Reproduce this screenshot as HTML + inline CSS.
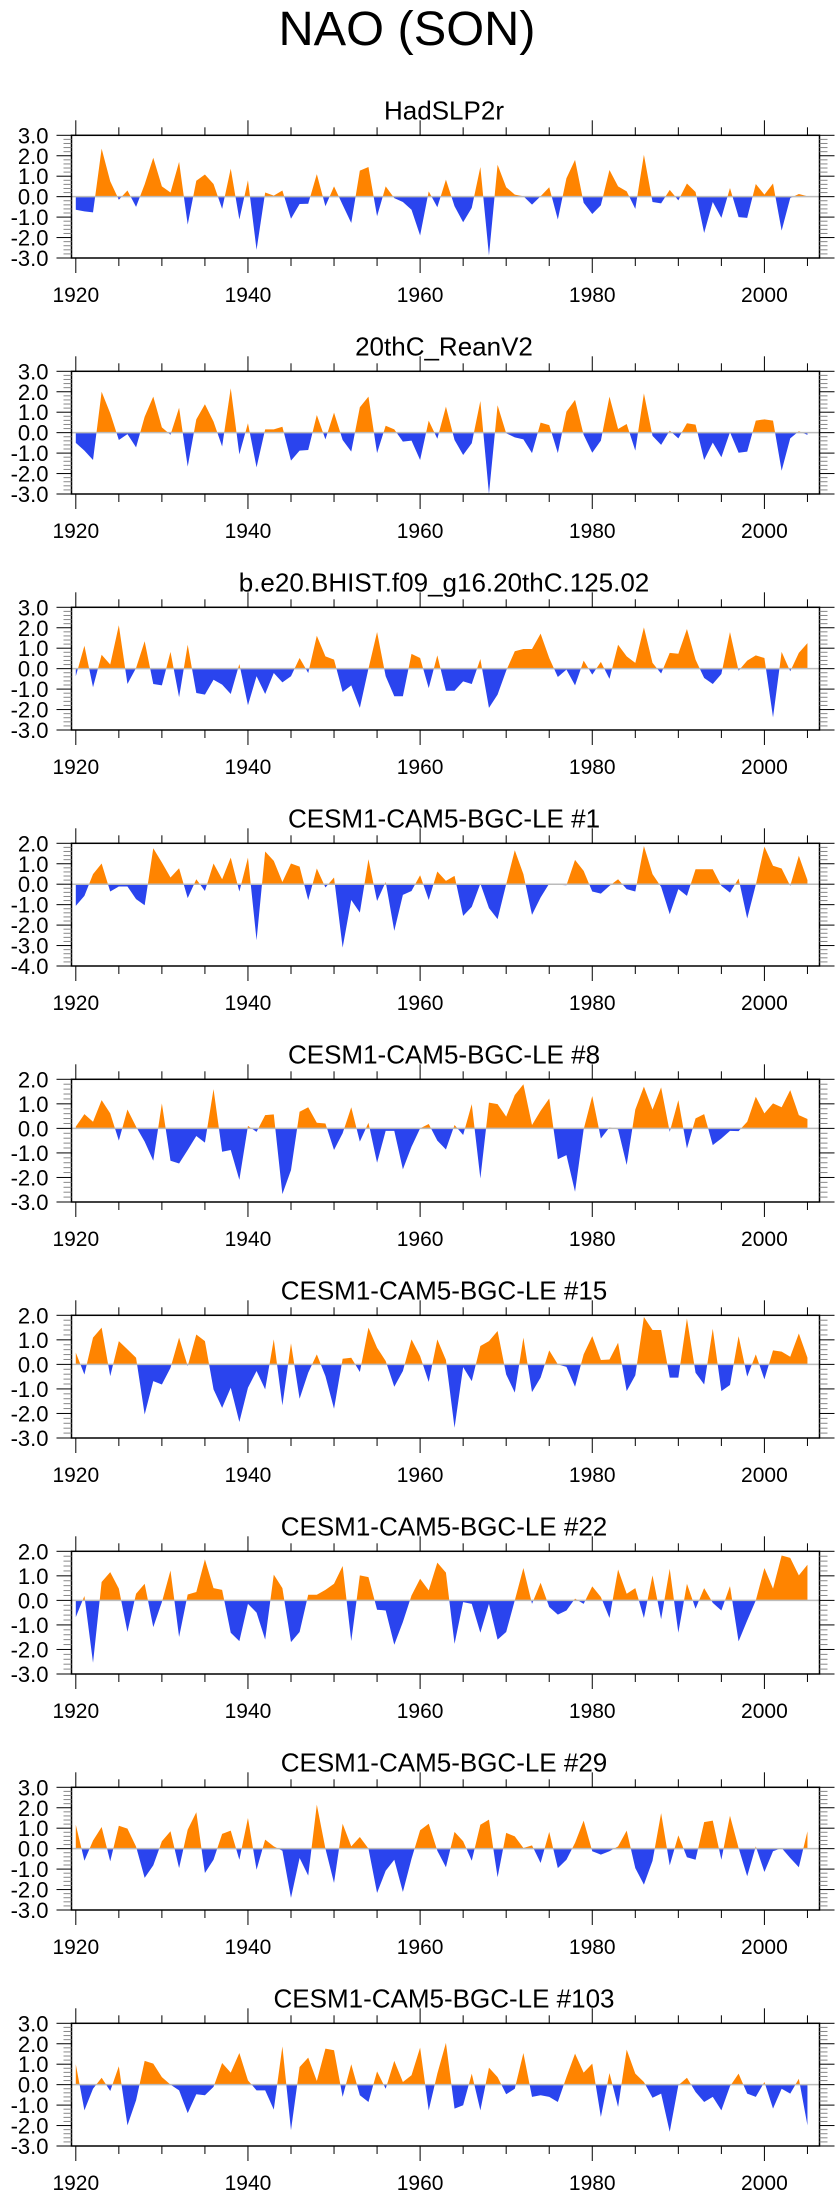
<!DOCTYPE html>
<html><head><meta charset="utf-8"><title>NAO (SON)</title>
<style>
html,body{margin:0;padding:0;background:#fff;}
svg{display:block;font-family:"Liberation Sans",sans-serif;}
</style></head>
<body>
<svg id="chart" width="840" height="2200" viewBox="0 0 840 2200" xmlns="http://www.w3.org/2000/svg">
<text x="407" y="45" font-size="48" text-anchor="middle" textLength="257" lengthAdjust="spacingAndGlyphs">NAO (SON)</text>
</svg>
<script>
const firstYear = 1920;
const xTickLabels = [1920, 1940, 1960, 1980, 2000];
const panelTitles = ["HadSLP2r","20thC_ReanV2","b.e20.BHIST.f09_g16.20thC.125.02","CESM1-CAM5-BGC-LE #1","CESM1-CAM5-BGC-LE #8","CESM1-CAM5-BGC-LE #15","CESM1-CAM5-BGC-LE #22","CESM1-CAM5-BGC-LE #29","CESM1-CAM5-BGC-LE #103"];
const yMinVals = [-3,-3,-3,-4,-3,-3,-3,-3,-3];
const yMaxVals = [3,3,3,2,2,2,2,3,3];
const had = [-0.64,-0.72,-0.77,2.35,0.75,-0.15,0.3,-0.5,0.6,1.9,0.5,0.2,1.7,-1.37,0.78,1.08,0.62,-0.6,1.37,-1.12,0.8,-2.6,0.2,0.05,0.3,-1.08,-0.36,-0.35,1.1,-0.47,0.5,-0.4,-1.29,1.27,1.45,-0.96,0.5,-0.07,-0.26,-0.64,-1.9,0.26,-0.52,0.83,-0.47,-1.25,-0.55,1.45,-2.88,1.56,0.46,0.1,0.02,-0.39,0.02,0.46,-1.12,0.9,1.8,-0.3,-0.85,-0.42,1.3,0.5,0.26,-0.6,2.05,-0.26,-0.33,0.33,-0.18,0.64,0.23,-1.78,-0.26,-1.04,0.42,-1.0,-1.04,0.62,0.1,0.64,-1.66,-0.07,0.13,0.02];
const rean = [-0.5,-0.88,-1.34,2.0,0.95,-0.36,-0.07,-0.72,0.78,1.76,0.26,-0.1,1.22,-1.66,0.65,1.39,0.54,-0.68,2.17,-1.06,0.46,-1.7,0.16,0.16,0.29,-1.37,-0.88,-0.85,0.86,-0.33,0.98,-0.36,-0.93,1.24,1.76,-1.0,0.34,0.16,-0.44,-0.39,-1.34,0.59,-0.3,1.27,-0.36,-1.09,-0.52,1.55,-3.0,1.34,-0.03,-0.23,-0.33,-1.0,0.49,0.37,-1.0,1.03,1.6,-0.11,-0.98,-0.39,1.76,0.18,0.42,-0.88,1.92,-0.16,-0.6,0.1,-0.28,0.46,0.39,-1.34,-0.49,-1.2,0.02,-0.98,-0.93,0.59,0.65,0.59,-1.86,-0.28,0.07,-0.11];
const bhist = [-0.37,1.12,-0.91,0.68,0.2,2.12,-0.75,0.03,1.34,-0.75,-0.82,0.82,-1.4,1.17,-1.19,-1.27,-0.54,-0.78,-1.24,0.23,-1.79,-0.37,-1.24,-0.21,-0.67,-0.37,0.52,-0.21,1.61,0.6,0.44,-1.14,-0.82,-1.92,0,1.79,-0.37,-1.35,-1.35,0.72,0.52,-0.95,0.65,-1.08,-1.08,-0.62,-0.75,0.47,-1.92,-1.27,-0.1,0.85,0.96,0.96,1.71,0.52,-0.41,-0.05,-0.82,0.39,-0.29,0.33,-0.5,1.17,0.6,0.28,2.02,0.28,-0.24,0.77,0.73,1.94,0.44,-0.46,-0.75,-0.26,1.79,-0.1,0.39,0.65,0.52,-2.38,0.82,-0.13,0.77,1.25];
const le1 = [-1.06,-0.57,0.49,1.01,-0.36,-0.11,-0.11,-0.73,-1.03,1.76,1.06,0.33,0.78,-0.68,0.24,-0.33,1.01,0.24,1.3,-0.36,1.3,-2.74,1.6,1.14,0.11,1.01,0.86,-0.78,0.77,-0.16,0.33,-3.1,-0.77,-1.39,1.22,-0.82,0.11,-2.28,-0.52,-0.33,0.44,-0.77,0.62,0.16,0.41,-1.55,-1.11,0.03,-1.17,-1.71,0,1.66,0.49,-1.5,-0.65,0.03,-0.03,-0.05,1.19,0.65,-0.36,-0.46,-0.08,0.24,-0.24,-0.36,1.87,0.49,-0.13,-1.47,-0.24,-0.57,0.73,0.73,0.73,-0.08,-0.41,0.28,-1.68,-0.03,1.84,0.9,0.77,-0.08,1.39,0.2];
const le8 = [0.07,0.58,0.27,1.15,0.61,-0.5,0.77,0.07,-0.54,-1.32,1.02,-1.32,-1.43,-0.88,-0.31,-0.58,1.6,-0.95,-0.88,-2.1,0.1,-0.14,0.54,0.57,-2.68,-1.7,0.68,0.86,0.23,0.2,-0.88,-0.2,0.86,-0.54,0.23,-1.4,-0.1,-0.1,-1.67,-0.75,0,0.18,-0.5,-0.86,0.14,-0.27,0.99,-2.04,1.05,0.99,0.48,1.36,1.8,0.14,0.72,1.22,-1.26,-1.09,-2.58,-0.04,1.32,-0.41,0.04,-0.04,-1.49,0.77,1.7,0.77,1.67,-0.14,1.15,-0.82,0.41,0.58,-0.68,-0.41,-0.1,-0.11,0.27,1.29,0.61,1.02,0.86,1.56,0.54,0.38];
const le15 = [0.48,-0.41,1.09,1.5,-0.48,0.95,0.61,0.27,-2.04,-0.68,-0.82,-0.14,1.09,-0.07,1.22,0.95,-1.02,-1.77,-0.95,-2.35,-0.95,-0.27,-1.02,1.02,-1.67,0.86,-1.4,-0.34,0.41,-0.48,-1.81,0.23,0.27,-0.31,1.5,0.68,0.14,-0.91,-0.27,1.02,0.34,-0.72,1.02,0.18,-2.58,-0.11,-0.68,0.75,0.95,1.36,-0.41,-1.15,1.09,-1.13,-0.54,0.57,0,-0.1,-0.91,0.41,1.15,0.18,0.2,0.88,-1.09,-0.45,1.93,1.4,1.4,-0.54,-0.54,1.87,-0.34,-0.82,1.45,-1.09,-0.84,1.15,-0.5,0.41,-0.61,0.57,0.52,0.31,1.26,0.27];
const le22 = [-0.68,0.18,-2.54,0.75,1.15,0.48,-1.29,0.27,0.68,-1.09,-0.07,1.22,-1.49,0.24,0.34,1.67,0.5,0.43,-1.32,-1.66,-0.14,-0.5,-1.6,1.05,0.5,-1.7,-1.29,0.23,0.23,0.43,0.68,1.4,-1.66,1.02,0.95,-0.38,-0.41,-1.81,-0.88,0.2,0.88,0.41,1.54,1.13,-1.77,-0.07,-0.14,-1.32,-0.14,-1.6,-1.29,0,1.32,-0.14,0.72,-0.27,-0.58,-0.41,0.07,-0.14,0.57,0.14,-0.72,1.26,0.27,0.5,-0.72,1.02,-0.77,1.29,-1.32,0.68,-0.34,0.5,-0.1,-0.41,0.58,-1.67,-0.82,0,1.32,0.48,1.83,1.73,1.02,1.45];
const le29 = [1.17,-0.59,0.39,1.06,-0.62,1.12,0.98,0.1,-1.43,-0.82,0.36,0.85,-0.95,0.93,1.78,-1.19,-0.54,0.72,0.88,-0.54,1.5,-1.03,0.44,0.11,-0.1,-2.41,-0.46,-1.32,2.15,0,-1.68,1.22,0.11,0.57,0,-2.17,-1.08,-0.54,-2.12,-0.5,0.9,1.22,-0.1,-0.91,0.82,0.36,-0.59,1.17,1.42,-1.4,0.77,0.6,0.03,0.16,-0.7,0.82,-0.95,-0.54,0.28,1.37,-0.13,-0.29,-0.13,0.11,0.88,-0.95,-1.76,-0.6,1.74,-0.82,0.65,-0.42,-0.54,1.3,1.37,-0.54,1.61,0.03,-1.35,0.11,-1.14,-0.13,0.03,-0.46,-0.91,0.85];
const le103 = [1.0,-1.26,-0.2,0.34,-0.31,0.9,-1.99,-0.77,1.16,1.03,0.37,0,-0.28,-1.39,-0.47,-0.52,-0.11,1.06,0.59,1.55,0.21,-0.28,-0.28,-1.22,1.87,-2.23,0.86,1.32,0.18,1.76,1.68,-0.6,1.0,-0.52,-0.85,0.65,-0.2,1.16,0.13,0.46,1.81,-1.26,0.54,2.04,-1.17,-1.01,0.54,-1.26,0.83,0.37,-0.47,-0.2,1.55,-0.6,-0.52,-0.6,-0.85,0.37,1.52,0.59,1.03,-1.58,0.57,-1.09,1.71,0.54,0.13,-0.64,-0.44,-2.31,-0.03,0.34,-0.36,-0.85,-0.6,-1.26,-0.08,0.54,-0.44,-0.6,0.13,-1.17,-0.2,-0.44,0.29,-1.99];
const seriesList = [had, rean, bhist, le1, le8, le15, le22, le29, le103];

const NS = "http://www.w3.org/2000/svg";
const svg = document.getElementById("chart");
const boxL = 71.5, boxR = 819.5, xMin = 1919.5, xMax = 2006.4;
const boxH = 122.7, firstTop = 135.3, panelStep = 236;
function xScale(yr){ return boxL + (yr - xMin) * (boxR - boxL) / (xMax - xMin); }
function mk(tag, attrs, parent){
  const e = document.createElementNS(NS, tag);
  for (const k in attrs) e.setAttribute(k, attrs[k]);
  parent.appendChild(e);
  return e;
}

seriesList.forEach(function(vals, p){
  const top = firstTop + p * panelStep, bot = top + boxH;
  const lo = yMinVals[p], hi = yMaxVals[p];
  function yScale(v){ return bot - (v - lo) * boxH / (hi - lo); }
  const y0 = yScale(0);
  const g = mk("g", {}, svg);
  
  

  const t = mk("text", {x: 444, y: top - 16, "font-size": 26, "text-anchor": "middle"}, g);
  
  
  t.textContent = panelTitles[p];

  // clip paths
  const defs = mk("defs", {}, g);
  const cpU = mk("clipPath", {id: "up" + p}, defs);
  mk("rect", {x: boxL, y: top, width: boxR - boxL, height: y0 - top}, cpU);
  const cpD = mk("clipPath", {id: "dn" + p}, defs);
  mk("rect", {x: boxL, y: y0, width: boxR - boxL, height: bot - y0}, cpD);

  let d = "M" + xScale(firstYear).toFixed(2) + "," + y0.toFixed(2);
  vals.forEach(function(v, i){
    d += " L" + xScale(firstYear + i).toFixed(2) + "," + yScale(v).toFixed(2);
  });
  d += " L" + xScale(firstYear + vals.length - 1).toFixed(2) + "," + y0.toFixed(2) + " Z";
  const pos = mk("path", {d: d, fill: "#ff8400", "clip-path": "url(#up" + p + ")"}, g);
  
  
  const neg = mk("path", {d: d, fill: "#2a44ee", "clip-path": "url(#dn" + p + ")"}, g);
  
  

  const zl = mk("line", {x1: boxL, x2: boxR, y1: y0, y2: y0, stroke: "#bbbbbb", "stroke-width": 1.5}, g);
  
  

  const box = mk("rect", {x: boxL, y: top, width: boxR - boxL, height: boxH, fill: "none", stroke: "#000", "stroke-width": 1.5}, g);
  
  

  // x ticks (every 5 yrs minor, 20 major) outward top and bottom
  for (let yr = 1920; yr <= 2005; yr += 5) {
    const major = (yr % 20 === 0);
    const L = major ? 15 : 8, xx = xScale(yr);
    mk("line", {x1: xx, x2: xx, y1: top, y2: top - L, stroke: "#000", "stroke-width": 1}, g);
    mk("line", {x1: xx, x2: xx, y1: bot, y2: bot + L, stroke: "#000", "stroke-width": 1}, g);
  }
  xTickLabels.forEach(function(yr){
    const lt = mk("text", {x: xScale(yr), y: bot + 44, "font-size": 21, "text-anchor": "middle"}, g);
    
    
    lt.textContent = yr;
  });
  // y ticks outward left and right
  for (let k = 0; k <= (hi - lo) * 5; k++) {
    const v = lo + k * 0.2, yy = yScale(v);
    const major = (k % 5 === 0);
    const L = major ? 15 : 8;
    const col = major ? "#000" : "#888";
    mk("line", {x1: boxL, x2: boxL - L, y1: yy, y2: yy, stroke: col, "stroke-width": 1}, g);
    mk("line", {x1: boxR, x2: boxR + L, y1: yy, y2: yy, stroke: col, "stroke-width": 1}, g);
    if (major) {
      const lt = mk("text", {x: 48.5, y: yy + 8, "font-size": 22, "text-anchor": "end"}, g);
      
      
      lt.textContent = v.toFixed(1);
    }
  }
});
</script>
</body></html>
